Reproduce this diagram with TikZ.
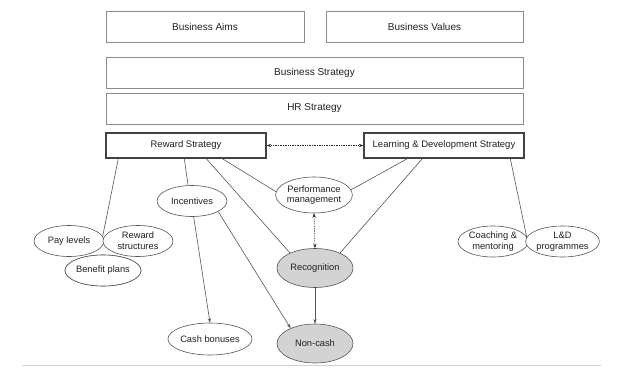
\documentclass[tikz,border=0pt]{standalone}
\usepackage{fontspec}
\setmainfont{Liberation Sans}
\usetikzlibrary{arrows.meta,calc,shapes.geometric}
\definecolor{txt}{HTML}{231F20}
\definecolor{boxgray}{HTML}{8C8C8C}
\definecolor{linegray}{HTML}{555555}
\definecolor{fillgray}{HTML}{D3D3D3}
\begin{document}
\begin{tikzpicture}[x=1pt,y=-1pt,
  every node/.style={text=txt},
  topbox/.style={draw=boxgray,line width=0.8pt,minimum height=31pt,inner sep=0pt,font=\fontsize{10}{12}\selectfont},
  keybox/.style={draw=txt!85,line width=1.4pt,minimum height=25pt,minimum width=160pt,inner sep=0pt,font=\fontsize{9.5}{11}\selectfont},
  oval/.style={ellipse,draw=linegray,line width=0.6pt,fill=white,inner sep=0pt,minimum width=70pt,minimum height=31pt,align=center,font=\fontsize{9.3}{10.7}\selectfont},
  bigoval/.style={oval,fill=fillgray,minimum width=76pt,minimum height=39pt},
  link/.style={draw=linegray,line width=0.6pt},
  arr/.style={link,-{Stealth[length=4.5pt,width=3.2pt]}},
  dotarr/.style={draw=txt,line width=0.7pt,densely dotted,{Stealth[length=4.5pt,width=3.2pt]}-{Stealth[length=4.5pt,width=3.2pt]}}
]
\useasboundingbox (0,0) rectangle (640,385);
% top boxes
\node[topbox,minimum width=198pt] (aims) at (205,26.5) {Business Aims};
\node[topbox,minimum width=197pt] (values) at (424.5,26.5) {Business Values};
\node[topbox,minimum width=417pt] (bstrat) at (314.5,72.5) {Business Strategy};
\node[topbox,minimum width=417pt] (hrstrat) at (314.5,108.5) {HR Strategy};
\node[keybox] (reward) at (186,145.5) {Reward Strategy};
\node[keybox] (ld) at (444,145.5) {Learning \& Development Strategy};
% ovals
\node[oval,minimum width=70pt] (incent) at (192,201) {Incentives};
\node[oval,minimum width=72pt,minimum height=36pt] (perf) at (314,195) {Performance\\management};
\node[oval] (pay) at (69,241) {Pay levels};
\node[oval] (rstruct) at (138,241) {Reward\\structures};
\node[oval] (benefit) at (103,270.5) {Benefit plans};
\node[bigoval] (recog) at (315,268) {Recognition};
\node[oval,minimum height=32pt] (cash) at (210,339) {Cash bonuses};
\node[bigoval] (noncash) at (315,343.5) {Non-cash};
\node[oval] (coach) at (493,241.5) {Coaching \&\\mentoring};
\node[oval] (ldprog) at (562.5,241.5) {L\&D\\programmes};
% connectors from Reward Strategy
\draw[link] ($(reward.south west)+(13,0)$) -- (pay.8);
\draw[link] ($(reward.south west)+(79,0)$) -- (incent.104);
\draw[link] ($(reward.south west)+(101,0)$) -- (recog.149);
\draw[link] ($(reward.south west)+(117,0)$) -- (perf.175);
% connectors from L&D Strategy
\draw[link] ($(ld.south west)+(44,0)$) -- (perf.8);
\draw[link] ($(ld.south west)+(59,0)$) -- (recog.31);
\draw[link] ($(ld.south west)+(147,0)$) -- (coach.8);
% arrows
\draw[arr] (incent.-84) -- (cash.north);
\draw[arr] (incent.-22) -- (noncash.148);
\draw[arr] (recog.south) -- (noncash.north);
\draw[dotarr] (perf.south) -- (recog.north);
\draw[dotarr] (reward.east) -- (ld.west);
% redraw benefit plans on top
\node[oval] at (benefit) {Benefit plans};
% bottom rule
\coordinate (ruleL) at (22,365);
\coordinate (ruleR) at (601,365);
\draw[draw=black!18,line width=0.8pt] (ruleL) -- (ruleR);
\end{tikzpicture}
\end{document}
